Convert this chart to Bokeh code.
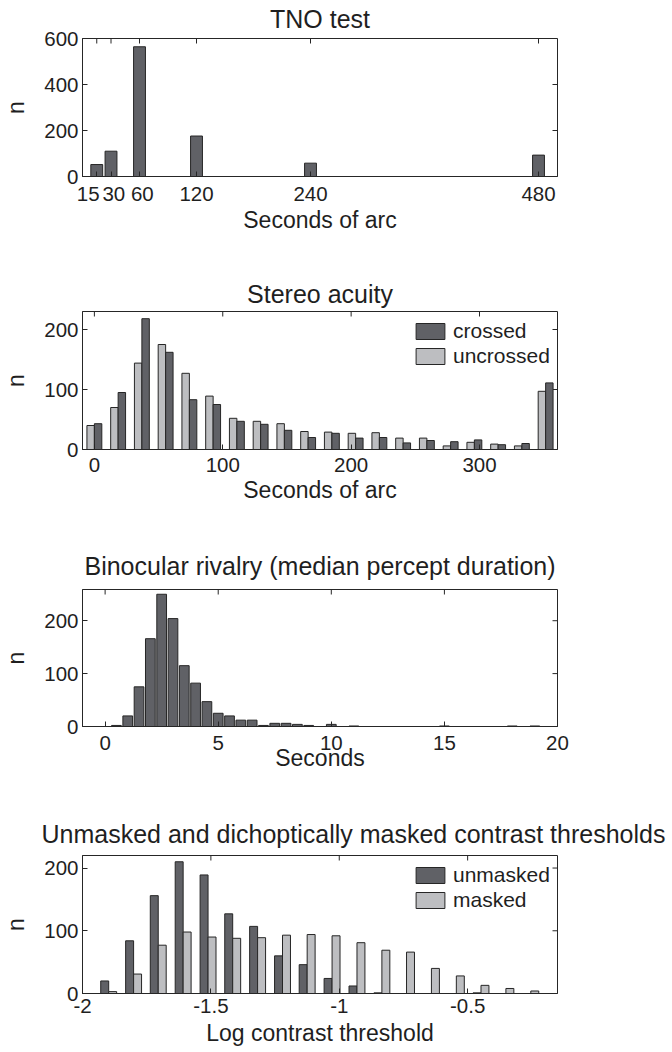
import math
from bokeh.plotting import figure
from bokeh.models import (Range1d, FixedTicker, Legend, LegendItem,
                          ColumnDataSource)
from bokeh.transform import dodge
from bokeh.layouts import column
from bokeh.embed import file_html
from bokeh.resources import INLINE

# ---------------- data ----------------
tno_seconds = [15, 30, 60, 120, 240, 480]
tno_counts = [52, 110, 564, 176, 58, 93]

stereo_bins = [0, 18.5, 37, 55.5, 74, 92.5, 111, 129.5, 148, 166.5, 185,
               203.5, 222, 240.5, 259, 277.5, 296, 314.5, 333, 351.5]
stereo_crossed = [43, 95, 218, 162, 83, 75, 47, 42, 32, 20, 27, 19, 20, 11,
                  15, 13, 16, 8, 10, 111]
stereo_uncrossed = [40, 70, 144, 175, 127, 89, 52, 47, 43, 30, 29, 27, 28,
                    19, 19, 6, 12, 9, 6, 97]

rivalry_bins = [0.5, 1.0, 1.5, 2.0, 2.5, 3.0, 3.5, 4.0, 4.5, 5.0, 5.5, 6.0,
                6.5, 7.0, 7.5, 8.0, 8.5, 9.0, 10.0, 11.0, 15.0, 18.0, 19.0]
rivalry_counts = [2, 20, 75, 166, 250, 204, 115, 82, 47, 25, 20, 12, 12, 2,
                  6, 6, 4, 2, 4, 1, 1, 1, 1]

contrast_bins = [-1.898, -1.801, -1.705, -1.608, -1.511, -1.415, -1.318,
                 -1.221, -1.125, -1.028, -0.931, -0.834, -0.738, -0.641,
                 -0.544, -0.448, -0.351, -0.254]
contrast_unmasked = [20, 84, 156, 210, 189, 127, 107, 60, 46, 24, 12, 1, 0, 0,
                     0, 1, 0, 0]
contrast_masked = [3, 31, 77, 98, 90, 88, 89, 93, 94, 92, 81, 69, 66, 40, 28,
                   13, 8, 4]

tno_ticks = [15, 30, 60, 120, 240, 480]
NB = "\u00a0"
tno_tick_labels = {15: "15" + NB * 3, 30: NB + "30", 60: NB + "60",
                   120: "120", 240: "240", 480: "480"}
contrast_ticks = [-2, -1.5, -1, -0.5]
contrast_tick_labels = {-2: "-2", -1.5: "-1.5", -1: "-1", -0.5: "-0.5"}

# ---------------- style ----------------
FONT = "Liberation Sans"
TXT = "#1f1f1f"
DARK = "#606166"
LIGHT = "#bdbec1"
EDGE = "#262626"
LEFT = 80
FRAME_W = 475
RIGHT = 109


def style_axis(ax, ticks, standoff):
    ax.ticker = FixedTicker(ticks=ticks)
    ax.major_tick_in = 5
    ax.major_tick_out = 0
    ax.minor_tick_in = 0
    ax.minor_tick_out = 0
    ax.axis_line_color = EDGE
    ax.major_tick_line_color = EDGE
    ax.major_label_text_font = FONT
    ax.major_label_text_color = TXT
    ax.major_label_text_font_size = "20.5px"
    ax.major_label_standoff = standoff
    ax.axis_label_text_font = FONT
    ax.axis_label_text_font_size = "23px"
    ax.axis_label_text_font_style = "normal"
    ax.axis_label_text_color = TXT


def make_fig(frame_top, frame_h, fig_h, xr, yr, xticks, yticks, title,
             title_standoff, xlabel, tick_standoff, xlabel_standoff,
             title_align="center", title_offset=0, title_valign="bottom"):
    p = figure(frame_width=FRAME_W, frame_height=frame_h,
               min_border_left=LEFT, min_border_right=RIGHT,
               min_border_top=frame_top,
               min_border_bottom=fig_h - frame_top - frame_h,
               x_range=Range1d(*xr), y_range=Range1d(*yr),
               output_backend="svg", toolbar_location=None, tools="",
               title=title)
    p.title.align = title_align
    p.title.offset = title_offset
    p.title.standoff = title_standoff
    p.title.vertical_align = title_valign
    p.title.text_font = FONT
    p.title.text_font_size = "25px"
    p.title.text_font_style = "normal"
    p.title.text_color = TXT
    p.xgrid.visible = False
    p.ygrid.visible = False
    p.outline_line_color = EDGE
    p.outline_line_width = 1
    p.background_fill_color = "white"
    p.border_fill_color = "white"

    style_axis(p.xaxis[0], xticks, tick_standoff)
    style_axis(p.yaxis[0], yticks, 4)
    p.xaxis[0].axis_label = xlabel
    p.xaxis[0].axis_label_standoff = xlabel_standoff
    p.yaxis[0].axis_label = "n"
    p.yaxis[0].axis_label_standoff = 12

    # inward mirror ticks on the top and right edges of the box
    p.ray(x=xticks, y=[yr[1]] * len(xticks), length=5, length_units="screen",
          angle=-math.pi / 2, line_color=EDGE, line_width=1)
    p.ray(x=[xr[1]] * len(yticks), y=yticks, length=5, length_units="screen",
          angle=math.pi, line_color=EDGE, line_width=1)
    return p


def add_legend(p, items, loc):
    leg = Legend(items=[LegendItem(label=l, renderers=[r]) for l, r in items],
                 location=loc, border_line_color=None,
                 background_fill_alpha=0, padding=0, margin=0, spacing=1,
                 glyph_width=36, glyph_height=20, label_standoff=5,
                 label_height=20, label_text_font=FONT,
                 label_text_font_size="21px", label_text_color=TXT)
    p.add_layout(leg)


# ---------------- panel 1: TNO ----------------
p1 = make_fig(38, 138, 258, (0, 500), (0, 600), tno_ticks, [0, 200, 400, 600],
              "TNO test", 8, "Seconds of arc", 5, -1, title_valign="top")
p1.xaxis[0].major_label_overrides = tno_tick_labels
src1 = ColumnDataSource(dict(x=tno_seconds, n=tno_counts))
p1.vbar(x="x", top="n", width=12.5, source=src1, fill_color=DARK,
        line_color=EDGE, line_width=1)

# ---------------- panel 2: stereo ----------------
p2 = make_fig(53, 138, 270, (-9.25, 360.75), (0, 230), [0, 100, 200, 300],
              [0, 100, 200], "Stereo acuity", 7, "Seconds of arc", 8, 2)
src2 = ColumnDataSource(dict(x=stereo_bins, c=stereo_crossed,
                             u=stereo_uncrossed))
r_u = p2.vbar(x=dodge("x", -2.9), top="u", width=5.8, source=src2,
              fill_color=LIGHT, line_color=EDGE, line_width=1)
r_c = p2.vbar(x=dodge("x", 2.9), top="c", width=5.8, source=src2,
              fill_color=DARK, line_color=EDGE, line_width=1)
add_legend(p2, [("crossed", r_c), ("uncrossed", r_u)], (330, 81))

# ---------------- panel 3: rivalry ----------------
p3 = make_fig(61, 137, 265, (-1, 20), (0, 259), [0, 5, 10, 15, 20],
              [0, 100, 200], "Binocular rivalry (median percept duration)",
              20, "Seconds", 9, -8)
src3 = ColumnDataSource(dict(x=rivalry_bins, n=rivalry_counts))
p3.vbar(x="x", top="n", width=0.43, source=src3, fill_color=DARK,
        line_color=EDGE, line_width=1)

# ---------------- panel 4: contrast ----------------
p4 = make_fig(62, 138, 258, (-2, -0.15), (0, 220), contrast_ticks,
              [0, 100, 200],
              "Unmasked and dichoptically masked contrast thresholds",
              16, "Log contrast threshold", 5, 4,
              title_align="left", title_offset=-41)
p4.xaxis[0].major_label_overrides = contrast_tick_labels
src4 = ColumnDataSource(dict(x=contrast_bins, um=contrast_unmasked,
                             m=contrast_masked))
r_um = p4.vbar(x=dodge("x", -0.0155), top="um", width=0.031, source=src4,
               fill_color=DARK, line_color=EDGE, line_width=1)
r_m = p4.vbar(x=dodge("x", 0.0155), top="m", width=0.031, source=src4,
              fill_color=LIGHT, line_color=EDGE, line_width=1)
add_legend(p4, [("unmasked", r_um), ("masked", r_m)], (330, 81))

layout = column(p1, p2, p3, p4, spacing=0)
open("out.html", "w").write(file_html(layout, INLINE))
